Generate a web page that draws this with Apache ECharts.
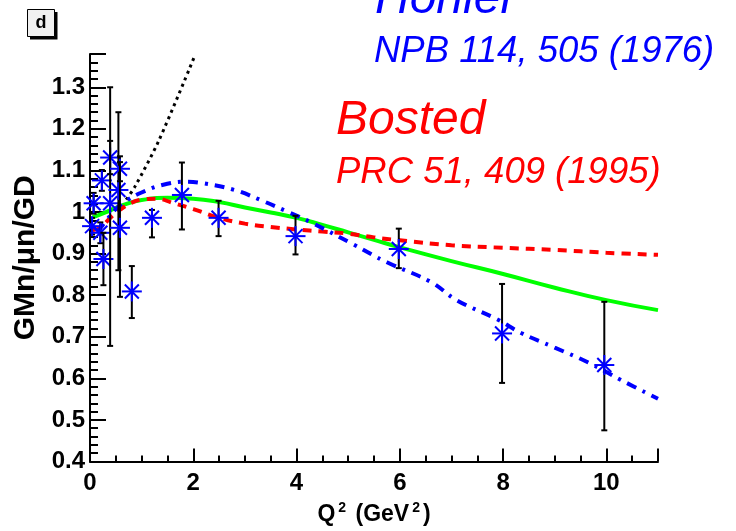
<!DOCTYPE html>
<html>
<head>
<meta charset="utf-8">
<script src="https://cdn.jsdelivr.net/npm/echarts@6/dist/echarts.min.js"></script>
<style>html,body{margin:0;padding:0;background:#fff}#c{width:736px;height:531px}</style>
</head>
<body>
<div id="c"></div>
<script>
// ---- data ----
const qsq    = [0.07, 0.04, 0.20, 0.23, 0.26, 0.39, 0.39, 0.55, 0.58, 0.58, 0.81, 1.20, 1.78, 2.49, 3.98, 5.98, 7.98, 9.96];
const gmn    = [1.021, 0.966, 0.950, 1.076, 0.887, 1.131, 1.021, 1.053, 1.104, 0.962, 0.809, 0.986, 1.041, 0.986, 0.942, 0.911, 0.708, 0.632];
const errLow = [0.996, 0.946, 0.925, 1.051, 0.824, 1.091, 0.678, 0.860, 1.074, 0.796, 0.745, 0.939, 0.958, 0.942, 0.898, 0.865, 0.589, 0.475];
const errHigh= [1.046, 0.986, 0.975, 1.101, 0.950, 1.171, 1.300, 1.240, 1.134, 1.120, 0.870, 1.005, 1.119, 1.027, 0.991, 0.960, 0.827, 0.784];

const greenX = [0.05, 0.3, 0.6, 1.0, 1.5, 2.0, 2.5, 3.0, 3.5, 4.0, 4.5, 5.0, 5.5, 6.0, 7.0, 8.0, 9.0, 10.0, 11.0];
const greenY = [0.987, 0.999, 1.015, 1.029, 1.034, 1.032, 1.024, 1.011, 0.999, 0.986, 0.969, 0.951, 0.933, 0.915, 0.882, 0.851, 0.818, 0.788, 0.764];

const redX = [0.05, 0.2, 0.4, 0.6, 0.8, 1.0, 1.3, 1.6, 2.0, 2.5, 3.0, 3.5, 4.0, 4.5, 5.0, 5.5, 6.0, 7.0, 8.0, 9.0, 10.0, 11.0];
const redY = [0.957, 0.962, 0.987, 1.007, 1.022, 1.030, 1.032, 1.022, 1.007, 0.986, 0.972, 0.964, 0.958, 0.953, 0.948, 0.939, 0.932, 0.920, 0.914, 0.909, 0.902, 0.897];

const blueX = [0.15, 0.3, 0.5, 0.7, 1.0, 1.4, 1.85, 2.2, 2.8, 3.3, 3.8, 4.3, 5.1, 5.75, 6.6, 7.1, 7.9, 8.35, 9.0, 9.65, 10.3, 11.0];
const blueY = [0.952, 0.977, 1.007, 1.027, 1.047, 1.065, 1.073, 1.069, 1.053, 1.029, 1.002, 0.974, 0.922, 0.879, 0.832, 0.788, 0.741, 0.709, 0.674, 0.638, 0.595, 0.551];

const dotX = [0.7, 0.87, 1.33, 2.01];
const dotY = [1.03, 1.061, 1.171, 1.370];

const xTicks = {min: 0, max: 11, step: 2};
const yTicks = {min: 0.4, max: 1.38, step: 0.1};

const zip = (a, b) => a.map((v, i) => [v, b[i]]);
const pts = qsq.map((q, i) => [q, gmn[i], errLow[i], errHigh[i]]);

const chart = echarts.init(document.getElementById('c'), null, {renderer: 'canvas'});
const FONT = 'Liberation Sans, Arial, Helvetica, sans-serif';

const option = {
  backgroundColor: '#ffffff',
  animation: false,
  grid: {left: 90, right: 78, top: 54, bottom: 61, containLabel: false},
  xAxis: {
    type: 'value', min: xTicks.min, max: xTicks.max, interval: xTicks.step,
    splitLine: {show: false},
    axisLine: {show: true, onZero: false, lineStyle: {color: '#000', width: 2}},
    axisTick: {show: true, inside: true, length: 13, lineStyle: {color: '#000', width: 2}},
    minorTick: {show: true, splitNumber: 4, length: 6, lineStyle: {color: '#000', width: 2}},
    axisLabel: {showMaxLabel: false, color: '#000', fontFamily: FONT, fontWeight: 'bold', fontSize: 24, margin: 10,
      formatter: v => String(+v.toFixed(2))},
    name: '{b|Q}{s|2}{b| (GeV}{s|2}{b|)}',
    nameLocation: 'middle', nameGap: 40,
    nameTextStyle: {rich: {
      b: {fontFamily: FONT, fontWeight: 'bold', fontSize: 23, color: '#000'},
      s: {fontFamily: FONT, fontWeight: 'bold', fontSize: 14, color: '#000', verticalAlign: 'top', padding: [0, 3, 12, 3]}
    }}
  },
  yAxis: {
    type: 'value', min: yTicks.min, max: yTicks.max, interval: yTicks.step,
    splitLine: {show: false},
    axisLine: {show: true, onZero: false, lineStyle: {color: '#000', width: 2}},
    axisTick: {show: true, inside: true, length: 16, lineStyle: {color: '#000', width: 2}},
    minorTick: {show: true, splitNumber: 5, length: 8, lineStyle: {color: '#000', width: 2}},
    axisLabel: {showMaxLabel: false, color: '#000', fontFamily: FONT, fontWeight: 'bold', fontSize: 24, margin: 5,
      formatter: v => String(+v.toFixed(2))},
    name: 'GMn/\u03BCn/GD', nameLocation: 'middle', nameGap: 38,
    nameTextStyle: {fontFamily: FONT, fontWeight: 'bold', fontSize: 30, color: '#000'}
  },
  series: [
    {type: 'line', data: zip(dotX, dotY), showSymbol: false, smooth: 0.3, z: 2,
      lineStyle: {color: '#000', width: 3, type: [3, 4]}},
    {type: 'line', data: zip(greenX, greenY), showSymbol: false, smooth: 0.5, z: 3,
      lineStyle: {color: '#00ff00', width: 4}},
    {type: 'line', data: zip(redX, redY), showSymbol: false, smooth: 0.4, z: 4,
      lineStyle: {color: '#ff0000', width: 4, type: [9, 7]}},
    {type: 'line', data: zip(blueX, blueY), showSymbol: false, smooth: 0.4, z: 5,
      lineStyle: {color: '#0000ff', width: 4, type: [10, 7, 3, 7]}},
    {type: 'custom', z: 6, data: pts,
      renderItem: function (params, api) {
        const x = api.value(0);
        const c = api.coord([x, api.value(1)]);
        const lo = api.coord([x, api.value(2)]);
        const hi = api.coord([x, api.value(3)]);
        const bs = {stroke: '#000', lineWidth: 2};
        const ms = {stroke: '#0000ff', lineWidth: 2};
        const r = 10, d = 7;
        return {type: 'group', children: [
          {type: 'line', shape: {x1: c[0], y1: lo[1], x2: c[0], y2: hi[1]}, style: bs},
          {type: 'line', shape: {x1: c[0] - 3, y1: lo[1], x2: c[0] + 3, y2: lo[1]}, style: bs},
          {type: 'line', shape: {x1: c[0] - 3, y1: hi[1], x2: c[0] + 3, y2: hi[1]}, style: bs},
          {type: 'line', shape: {x1: c[0] - r, y1: c[1], x2: c[0] + r, y2: c[1]}, style: ms},
          {type: 'line', shape: {x1: c[0], y1: c[1] - r, x2: c[0], y2: c[1] + r}, style: ms},
          {type: 'line', shape: {x1: c[0] - d, y1: c[1] - d, x2: c[0] + d, y2: c[1] + d}, style: ms},
          {type: 'line', shape: {x1: c[0] - d, y1: c[1] + d, x2: c[0] + d, y2: c[1] - d}, style: ms}
        ]};
      }
    }
  ],
  graphic: [
    {type: 'rect', shape: {x: 30, y: 12, width: 27.5, height: 27.5}, style: {fill: '#000'}, z: 10},
    {type: 'rect', shape: {x: 27.5, y: 9.5, width: 27, height: 27}, style: {fill: '#f0f0f0', stroke: '#000', lineWidth: 1}, z: 11},
    {type: 'text', x: 41, y: 23, z: 12, style: {text: 'd', fill: '#000', font: 'bold 18px ' + FONT, align: 'center', verticalAlign: 'middle'}},
    {type: 'text', x: 375, y: -0.6, z: 12, style: {text: 'Hohler', fill: '#0000ff', font: 'italic 48px ' + FONT, align: 'left', verticalAlign: 'middle'}},
    {type: 'text', x: 374, y: 51.5, z: 12, style: {text: 'NPB 114, 505 (1976)', fill: '#0000ff', font: 'italic 36.5px ' + FONT, align: 'left', verticalAlign: 'middle'}},
    {type: 'text', x: 336, y: 121, z: 12, style: {text: 'Bosted', fill: '#ff0000', font: 'italic 48px ' + FONT, align: 'left', verticalAlign: 'middle'}},
    {type: 'text', x: 336, y: 173, z: 12, style: {text: 'PRC 51, 409 (1995)', fill: '#ff0000', font: 'italic 36.5px ' + FONT, align: 'left', verticalAlign: 'middle'}}
  ]
};
chart.setOption(option);
</script>
</body>
</html>
